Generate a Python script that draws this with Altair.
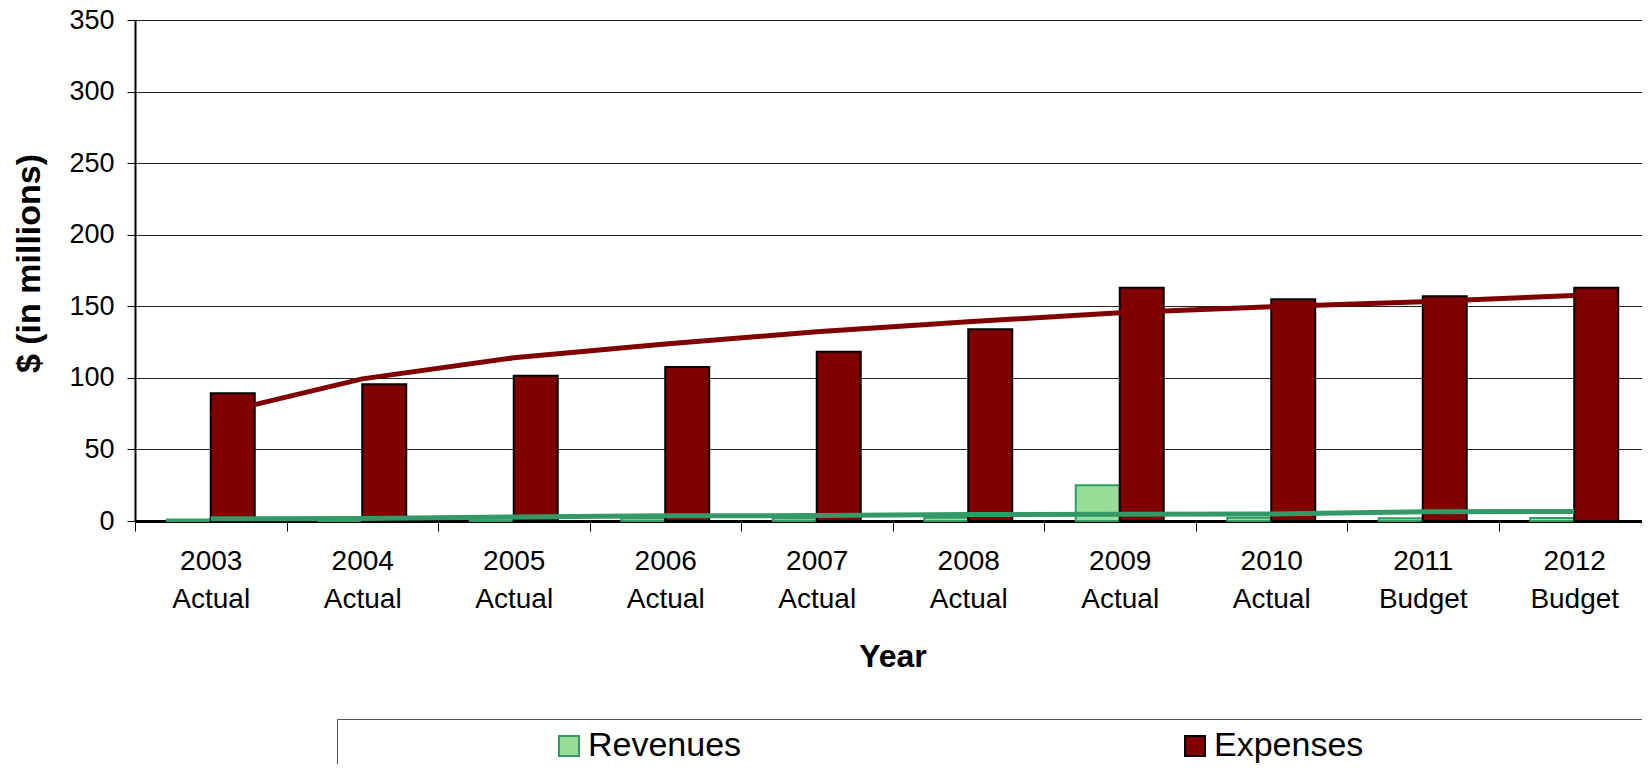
import altair as alt
import pandas as pd

years = ["2003 Actual", "2004 Actual", "2005 Actual", "2006 Actual", "2007 Actual",
         "2008 Actual", "2009 Actual", "2010 Actual", "2011 Budget", "2012 Budget"]
revenues = [1.0, 1.2, 2.0, 2.0, 2.0, 2.2, 25.0, 2.2, 2.0, 2.1]
expenses = [89.3, 95.5, 101.5, 107.5, 118.3, 134.0, 163.0, 155.0, 157.0, 163.0]
revenue_trend = [1.5, 1.8, 2.8, 3.6, 3.8, 4.5, 4.8, 4.9, 6.5, 6.7]
expense_trend = [74.0, 99.3, 114.0, 123.6, 132.2, 139.2, 145.5, 149.7, 153.1, 157.6]
y_ticks = [0, 50, 100, 150, 200, 250, 300, 350]

series = ["Revenues", "Expenses"]
fills = ["#99dd99", "#800000"]
strokes = ["#339966", "#000000"]
trend_colors = {"Revenues": "#339966", "Expenses": "#800000"}

bars_df = pd.DataFrame({
    "year": years * 2,
    "series": ["Revenues"] * len(years) + ["Expenses"] * len(years),
    "value": revenues + expenses,
})
trend_df = pd.DataFrame({
    "year": years * 2,
    "series": ["Revenues"] * len(years) + ["Expenses"] * len(years),
    "value": revenue_trend + expense_trend,
})

FONT = "Liberation Sans"
xscale = alt.Scale(domain=years, paddingInner=0, paddingOuter=0)
yscale = alt.Scale(domain=[0, 350], nice=False)

x_axis = alt.Axis(
    title="Year", tickBand="extent", grid=False, labelAngle=0,
    labelExpr="split(datum.label, ' ')", labelLineHeight=38,
    labelFontSize=28, labelFont=FONT, labelColor="black", labelPadding=16,
    labelOverlap=False, labelLimit=400,
    titleFontSize=32, titleFont=FONT, titleFontWeight="bold", titleColor="black",
    titlePadding=28,
    domainColor="black", domainWidth=3, tickColor="black", tickSize=10, tickWidth=1,
)
y_axis = alt.Axis(
    title="$ (in millions)", values=y_ticks, grid=True, gridColor="#222222", gridWidth=1,
    labelFontSize=27, labelFont=FONT, labelColor="black", labelPadding=13,
    titleFontSize=34, titleFont=FONT, titleFontWeight="bold", titleColor="black",
    titlePadding=22, titleY=243, titleAlign="center",
    domainColor="black", domainWidth=2, tickColor="black", tickSize=8, tickWidth=1,
)

filler = "\u00a0" * 45 + "\u200b"
legend = alt.Legend(
    orient="none", legendX=202, legendY=699, direction="horizontal", columns=2,
    columnPadding=436, title=" ", titleOrient="left", titlePadding=205, titleFontSize=1,
    labelFontSize=34, labelFont=FONT, labelColor="black", labelOffset=2, labelLimit=2000,
    symbolType="square", symbolSize=400, symbolStrokeWidth=2,
    padding=10, strokeColor="#555555", fillColor="white",
    labelExpr="datum.label == 'Expenses' ? 'Expenses" + filler + "' : datum.label",
)

bars = alt.Chart(bars_df).mark_bar(strokeWidth=2).encode(
    x=alt.X("year:N", scale=xscale, sort=years, axis=x_axis),
    y=alt.Y("value:Q", scale=yscale, axis=y_axis),
    xOffset=alt.XOffset("series:N", sort=series,
                        scale=alt.Scale(domain=series, paddingInner=0, paddingOuter=0.722)),
    fill=alt.Fill("series:N", scale=alt.Scale(domain=series, range=fills), legend=legend),
    stroke=alt.Stroke("series:N", scale=alt.Scale(domain=series, range=strokes), legend=legend),
)

def trend(name):
    return alt.Chart(trend_df).transform_filter(alt.datum.series == name).mark_line(
        strokeWidth=5, color=trend_colors[name]
    ).encode(
        x=alt.X("year:N", scale=xscale, sort=years, axis=x_axis),
        y=alt.Y("value:Q", scale=yscale, axis=y_axis),
    )

chart = alt.layer(bars, trend("Revenues"), trend("Expenses")).properties(
    width=1515, height=501,
    padding={"left": 127, "top": 12, "right": -8, "bottom": 243},
    autosize=alt.AutoSizeParams(type="none"),
    background="white",
).configure_view(stroke=None)

chart.save("out.html", embed_options={"renderer": "svg", "actions": False})
